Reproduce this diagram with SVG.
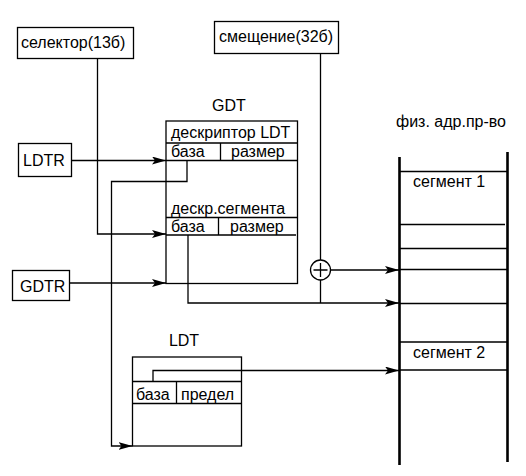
<svg xmlns="http://www.w3.org/2000/svg" width="526" height="476" viewBox="0 0 526 476">
<style>
text{font-family:"Liberation Sans",Arial,sans-serif;font-size:16px;fill:#000}
.b{fill:#fff;stroke:#000;stroke-width:1.3}
.l{fill:none;stroke:#000;stroke-width:1.3}
.w{fill:none;stroke:#000;stroke-width:2.6}
</style>
<defs>
<marker id="ah" viewBox="0 0 14 8" refX="14" refY="4" markerWidth="14" markerHeight="8" markerUnits="userSpaceOnUse" orient="auto">
<path d="M0,0 L14,4 L0,8 L3,4 Z" fill="#000"/>
</marker>
</defs>
<rect width="526" height="476" fill="#fff"/>
<g id="selector"><rect class="b" x="17.5" y="27.5" width="116" height="31"/><text x="21" y="48">селектор(13б)</text></g>
<g id="offset"><rect class="b" x="214.5" y="21.5" width="124" height="32"/><text x="219" y="42">смещение(32б)</text></g>
<g id="ldtr"><rect class="b" x="18.5" y="143.5" width="53" height="33"/><text x="23" y="166">LDTR</text></g>
<g id="gdtr"><rect class="b" x="12.5" y="270.5" width="57" height="30"/><text x="20" y="292">GDTR</text></g>
<g id="gdt">
<text x="229" y="111" text-anchor="middle">GDT</text>
<rect class="b" x="166" y="121" width="131.5" height="162.5"/>
<path class="l" d="M166,143 H297.5 M166,160.5 H297.5 M220.5,143 V160.5 M166,217.5 H297.5 M166,235 H296 M218.5,217.5 V235"/>
<text x="171" y="138">дескриптор LDT</text>
<text x="171" y="157">база</text>
<text x="231" y="157">размер</text>
<text x="171" y="214">дескр.сегмента</text>
<text x="171" y="232">база</text>
<text x="230" y="232">размер</text>
</g>
<g id="ldt">
<text x="184" y="346" text-anchor="middle">LDT</text>
<rect class="b" x="132.5" y="357" width="109" height="89"/>
<path class="l" d="M132.5,381.5 H241.5 M132.5,403.5 H241.5 M176.5,381.5 V403.5"/>
<text x="136" y="400">база</text>
<text x="181" y="400">предел</text>
</g>
<g id="memory">
<text x="451" y="127" text-anchor="middle">физ. адр.пр-во</text>
<path class="w" d="M399.5,157 V465 M507.5,152 V462"/>
<path class="l" d="M399,171.5 H507 M399,224.5 H505 M399,248.5 H507 M399,269.5 H507 M399,303.5 H507 M399,342 H507 M399,370 H507"/>
<text x="413" y="187">сегмент 1</text>
<text x="413" y="358">сегмент 2</text>
</g>
<g id="adder">
<circle class="b" cx="320.5" cy="270" r="10"/>
<path class="l" d="M313.5,270 H327.5 M320.5,263 V277"/>
</g>
<g id="connectors">
<path class="l" d="M71.5,160.5 H166" marker-end="url(#ah)"/>
<path class="l" d="M97.5,58.5 V234 H166" marker-end="url(#ah)"/>
<path class="l" d="M69.5,283 H166" marker-end="url(#ah)"/>
<path class="l" d="M187,160.5 V181.5 H111.5 V446 H132.5" marker-end="url(#ah)"/>
<path class="l" d="M188,235 V303 H399" marker-end="url(#ah)"/>
<path class="l" d="M320.5,53.5 V260"/>
<path class="l" d="M320.5,280 V303"/>
<path class="l" d="M330.5,270 H399" marker-end="url(#ah)"/>
<path class="l" d="M153,381.5 V370.5 H399" marker-end="url(#ah)"/>
</g>
</svg>
